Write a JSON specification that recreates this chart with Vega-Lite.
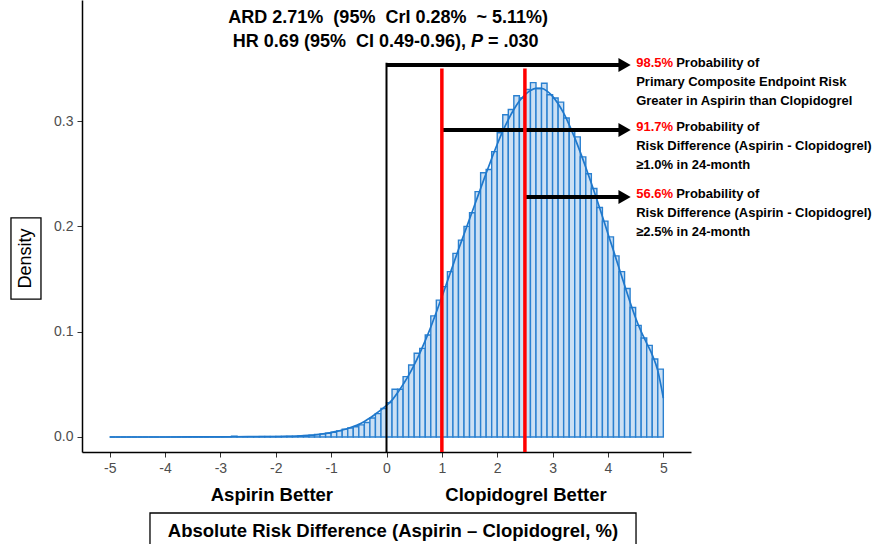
{
  "$schema": "https://vega.github.io/schema/vega-lite/v6.json",
  "width": 609,
  "height": 452,
  "autosize": {"type": "none"},
  "padding": {"left": 82, "top": 0, "right": 186, "bottom": 92},
  "background": "white",
  "config": {
    "view": {"stroke": null},
    "font": "Liberation Sans",
    "axis": {
      "domainColor": "black",
      "domainWidth": 1.5,
      "tickColor": "#333333",
      "tickSize": 5,
      "tickWidth": 1,
      "labelColor": "#4d4d4d",
      "labelFontSize": 14,
      "labelFont": "Liberation Sans",
      "labelPadding": 3,
      "grid": false
    }
  },
  "datasets": {
    "hist": [
      {"bin_start": -5.0, "bin_end": -4.9, "density": 0},
      {"bin_start": -4.9, "bin_end": -4.8, "density": 0},
      {"bin_start": -4.8, "bin_end": -4.7, "density": 0},
      {"bin_start": -4.7, "bin_end": -4.6, "density": 0},
      {"bin_start": -4.6, "bin_end": -4.5, "density": 0},
      {"bin_start": -4.5, "bin_end": -4.4, "density": 0},
      {"bin_start": -4.4, "bin_end": -4.3, "density": 0},
      {"bin_start": -4.3, "bin_end": -4.2, "density": 0},
      {"bin_start": -4.2, "bin_end": -4.1, "density": 0},
      {"bin_start": -4.1, "bin_end": -4.0, "density": 0},
      {"bin_start": -4.0, "bin_end": -3.9, "density": 0},
      {"bin_start": -3.9, "bin_end": -3.8, "density": 0},
      {"bin_start": -3.8, "bin_end": -3.7, "density": 0},
      {"bin_start": -3.7, "bin_end": -3.6, "density": 0},
      {"bin_start": -3.6, "bin_end": -3.5, "density": 0},
      {"bin_start": -3.5, "bin_end": -3.4, "density": 0},
      {"bin_start": -3.4, "bin_end": -3.3, "density": 0},
      {"bin_start": -3.3, "bin_end": -3.2, "density": 0},
      {"bin_start": -3.2, "bin_end": -3.1, "density": 0},
      {"bin_start": -3.1, "bin_end": -3.0, "density": 0},
      {"bin_start": -3.0, "bin_end": -2.9, "density": 0},
      {"bin_start": -2.9, "bin_end": -2.8, "density": 0},
      {"bin_start": -2.8, "bin_end": -2.7, "density": 0.0008},
      {"bin_start": -2.7, "bin_end": -2.6, "density": 0.0002},
      {"bin_start": -2.6, "bin_end": -2.5, "density": 0},
      {"bin_start": -2.5, "bin_end": -2.4, "density": 0.0001},
      {"bin_start": -2.4, "bin_end": -2.3, "density": 0.0001},
      {"bin_start": -2.3, "bin_end": -2.2, "density": 0.0004},
      {"bin_start": -2.2, "bin_end": -2.1, "density": 0.0004},
      {"bin_start": -2.1, "bin_end": -2.0, "density": 0.0004},
      {"bin_start": -2.0, "bin_end": -1.9, "density": 0.0005},
      {"bin_start": -1.9, "bin_end": -1.8, "density": 0.0005},
      {"bin_start": -1.8, "bin_end": -1.7, "density": 0.0006},
      {"bin_start": -1.7, "bin_end": -1.6, "density": 0.0007},
      {"bin_start": -1.6, "bin_end": -1.5, "density": 0.0010},
      {"bin_start": -1.5, "bin_end": -1.4, "density": 0.0013},
      {"bin_start": -1.4, "bin_end": -1.3, "density": 0.0017},
      {"bin_start": -1.3, "bin_end": -1.2, "density": 0.0023},
      {"bin_start": -1.2, "bin_end": -1.1, "density": 0.0030},
      {"bin_start": -1.1, "bin_end": -1.0, "density": 0.0036},
      {"bin_start": -1.0, "bin_end": -0.9, "density": 0.0045},
      {"bin_start": -0.9, "bin_end": -0.8, "density": 0.0058},
      {"bin_start": -0.8, "bin_end": -0.7, "density": 0.0075},
      {"bin_start": -0.7, "bin_end": -0.6, "density": 0.0085},
      {"bin_start": -0.6, "bin_end": -0.5, "density": 0.0098},
      {"bin_start": -0.5, "bin_end": -0.4, "density": 0.0115},
      {"bin_start": -0.4, "bin_end": -0.3, "density": 0.0138},
      {"bin_start": -0.3, "bin_end": -0.2, "density": 0.0180},
      {"bin_start": -0.2, "bin_end": -0.1, "density": 0.0222},
      {"bin_start": -0.1, "bin_end": 0.0, "density": 0.0270},
      {"bin_start": 0.0, "bin_end": 0.1, "density": 0.0326},
      {"bin_start": 0.1, "bin_end": 0.2, "density": 0.0453},
      {"bin_start": 0.2, "bin_end": 0.3, "density": 0.0453},
      {"bin_start": 0.3, "bin_end": 0.4, "density": 0.0573},
      {"bin_start": 0.4, "bin_end": 0.5, "density": 0.0684},
      {"bin_start": 0.5, "bin_end": 0.6, "density": 0.0795},
      {"bin_start": 0.6, "bin_end": 0.7, "density": 0.0842},
      {"bin_start": 0.7, "bin_end": 0.8, "density": 0.0969},
      {"bin_start": 0.8, "bin_end": 0.9, "density": 0.1150},
      {"bin_start": 0.9, "bin_end": 1.0, "density": 0.1300},
      {"bin_start": 1.0, "bin_end": 1.1, "density": 0.1428},
      {"bin_start": 1.1, "bin_end": 1.2, "density": 0.1570},
      {"bin_start": 1.2, "bin_end": 1.3, "density": 0.1744},
      {"bin_start": 1.3, "bin_end": 1.4, "density": 0.1870},
      {"bin_start": 1.4, "bin_end": 1.5, "density": 0.2000},
      {"bin_start": 1.5, "bin_end": 1.6, "density": 0.2130},
      {"bin_start": 1.6, "bin_end": 1.7, "density": 0.2330},
      {"bin_start": 1.7, "bin_end": 1.8, "density": 0.2510},
      {"bin_start": 1.8, "bin_end": 1.9, "density": 0.2540},
      {"bin_start": 1.9, "bin_end": 2.0, "density": 0.2710},
      {"bin_start": 2.0, "bin_end": 2.1, "density": 0.2890},
      {"bin_start": 2.1, "bin_end": 2.2, "density": 0.3060},
      {"bin_start": 2.2, "bin_end": 2.3, "density": 0.3110},
      {"bin_start": 2.3, "bin_end": 2.4, "density": 0.3240},
      {"bin_start": 2.4, "bin_end": 2.5, "density": 0.3220},
      {"bin_start": 2.5, "bin_end": 2.6, "density": 0.3300},
      {"bin_start": 2.6, "bin_end": 2.7, "density": 0.3365},
      {"bin_start": 2.7, "bin_end": 2.8, "density": 0.3310},
      {"bin_start": 2.8, "bin_end": 2.9, "density": 0.3360},
      {"bin_start": 2.9, "bin_end": 3.0, "density": 0.3250},
      {"bin_start": 3.0, "bin_end": 3.1, "density": 0.3220},
      {"bin_start": 3.1, "bin_end": 3.2, "density": 0.3180},
      {"bin_start": 3.2, "bin_end": 3.3, "density": 0.3030},
      {"bin_start": 3.3, "bin_end": 3.4, "density": 0.2920},
      {"bin_start": 3.4, "bin_end": 3.5, "density": 0.2850},
      {"bin_start": 3.5, "bin_end": 3.6, "density": 0.2660},
      {"bin_start": 3.6, "bin_end": 3.7, "density": 0.2500},
      {"bin_start": 3.7, "bin_end": 3.8, "density": 0.2360},
      {"bin_start": 3.8, "bin_end": 3.9, "density": 0.2180},
      {"bin_start": 3.9, "bin_end": 4.0, "density": 0.2050},
      {"bin_start": 4.0, "bin_end": 4.1, "density": 0.1900},
      {"bin_start": 4.1, "bin_end": 4.2, "density": 0.1720},
      {"bin_start": 4.2, "bin_end": 4.3, "density": 0.1570},
      {"bin_start": 4.3, "bin_end": 4.4, "density": 0.1410},
      {"bin_start": 4.4, "bin_end": 4.5, "density": 0.1230},
      {"bin_start": 4.5, "bin_end": 4.6, "density": 0.1060},
      {"bin_start": 4.6, "bin_end": 4.7, "density": 0.0940},
      {"bin_start": 4.7, "bin_end": 4.8, "density": 0.0870},
      {"bin_start": 4.8, "bin_end": 4.9, "density": 0.0740},
      {"bin_start": 4.9, "bin_end": 5.0, "density": 0.0645}
    ],
    "curve": [
      {"x": -5.0, "density": 0},
      {"x": -4.0, "density": 0},
      {"x": -3.5, "density": 0.0001},
      {"x": -3.0, "density": 0.0002},
      {"x": -2.5, "density": 0.0003},
      {"x": -2.0, "density": 0.0004},
      {"x": -1.8, "density": 0.0006},
      {"x": -1.6, "density": 0.0009},
      {"x": -1.4, "density": 0.0015},
      {"x": -1.2, "density": 0.0026},
      {"x": -1.0, "density": 0.0042},
      {"x": -0.9, "density": 0.0053},
      {"x": -0.8, "density": 0.0066},
      {"x": -0.7, "density": 0.0081},
      {"x": -0.6, "density": 0.0099},
      {"x": -0.5, "density": 0.0120},
      {"x": -0.4, "density": 0.0148},
      {"x": -0.3, "density": 0.0180},
      {"x": -0.2, "density": 0.0218},
      {"x": -0.1, "density": 0.0258},
      {"x": 0.0, "density": 0.0300},
      {"x": 0.1, "density": 0.0350},
      {"x": 0.2, "density": 0.0420},
      {"x": 0.3, "density": 0.0500},
      {"x": 0.4, "density": 0.0585},
      {"x": 0.5, "density": 0.0685},
      {"x": 0.6, "density": 0.0795},
      {"x": 0.7, "density": 0.0915},
      {"x": 0.8, "density": 0.1045},
      {"x": 0.9, "density": 0.1185},
      {"x": 1.0, "density": 0.1330},
      {"x": 1.1, "density": 0.1480},
      {"x": 1.2, "density": 0.1630},
      {"x": 1.3, "density": 0.1780},
      {"x": 1.4, "density": 0.1925},
      {"x": 1.5, "density": 0.2070},
      {"x": 1.6, "density": 0.2215},
      {"x": 1.7, "density": 0.2360},
      {"x": 1.8, "density": 0.2505},
      {"x": 1.9, "density": 0.2645},
      {"x": 2.0, "density": 0.2780},
      {"x": 2.1, "density": 0.2905},
      {"x": 2.2, "density": 0.3015},
      {"x": 2.3, "density": 0.3110},
      {"x": 2.4, "density": 0.3190},
      {"x": 2.5, "density": 0.3250},
      {"x": 2.6, "density": 0.3290},
      {"x": 2.7, "density": 0.3310},
      {"x": 2.8, "density": 0.3310},
      {"x": 2.9, "density": 0.3285},
      {"x": 3.0, "density": 0.3235},
      {"x": 3.1, "density": 0.3165},
      {"x": 3.2, "density": 0.3075},
      {"x": 3.3, "density": 0.2965},
      {"x": 3.4, "density": 0.2840},
      {"x": 3.5, "density": 0.2705},
      {"x": 3.6, "density": 0.2560},
      {"x": 3.7, "density": 0.2410},
      {"x": 3.8, "density": 0.2255},
      {"x": 3.9, "density": 0.2095},
      {"x": 4.0, "density": 0.1930},
      {"x": 4.1, "density": 0.1770},
      {"x": 4.2, "density": 0.1605},
      {"x": 4.3, "density": 0.1440},
      {"x": 4.4, "density": 0.1280},
      {"x": 4.5, "density": 0.1130},
      {"x": 4.6, "density": 0.1000},
      {"x": 4.7, "density": 0.0890},
      {"x": 4.8, "density": 0.0780},
      {"x": 4.9, "density": 0.0630},
      {"x": 5.0, "density": 0.0370}
    ]
  },
  "layer": [
    {
      "data": {"name": "hist"},
      "mark": {"type": "rect", "fill": "#cce0f4", "stroke": "#2a80d0", "strokeWidth": 1.4},
      "encoding": {
        "x": {"field": "bin_start", "type": "quantitative",
              "scale": {"domain": [-5.5, 5.5], "nice": false, "zero": false},
              "axis": {"title": null, "values": [-5, -4, -3, -2, -1, 0, 1, 2, 3, 4, 5], "labelExpr": "'' + datum.value", "labelFontSize": 14, "labelPadding": 4}},
        "x2": {"field": "bin_end"},
        "y": {"field": "density", "type": "quantitative",
              "scale": {"domain": [-0.01425, 0.415], "nice": false, "zero": false},
              "axis": {"title": null, "values": [0, 0.1, 0.2, 0.3], "format": ".1f", "labelPadding": 4, "labelFontSize": 14}},
        "y2": {"datum": 0}
      }
    },
    {
      "data": {"name": "curve"},
      "mark": {"type": "line", "stroke": "#1f78cc", "strokeWidth": 1.7, "interpolate": "monotone"},
      "encoding": {
        "x": {"field": "x", "type": "quantitative"},
        "y": {"field": "density", "type": "quantitative"}
      }
    },
    {
      "data": {"values": [{}]},
      "mark": {"type": "rule", "color": "black", "strokeWidth": 2},
      "encoding": {"x": {"datum": 0, "type": "quantitative"}, "y": {"datum": -0.01425, "type": "quantitative"}, "y2": {"datum": 0.3555}}
    },
    {
      "data": {"values": [{}]},
      "mark": {"type": "rule", "color": "black", "strokeWidth": 4},
      "encoding": {"x": {"datum": 0, "type": "quantitative"}, "x2": {"datum": 4.2}, "y": {"datum": 0.3533, "type": "quantitative"}}
    },
    {
      "data": {"values": [{}]},
      "mark": {"type": "rule", "color": "black", "strokeWidth": 4},
      "encoding": {"x": {"datum": 1, "type": "quantitative"}, "x2": {"datum": 4.2}, "y": {"datum": 0.2915, "type": "quantitative"}}
    },
    {
      "data": {"values": [{}]},
      "mark": {"type": "rule", "color": "black", "strokeWidth": 4},
      "encoding": {"x": {"datum": 2.5, "type": "quantitative"}, "x2": {"datum": 4.2}, "y": {"datum": 0.2279, "type": "quantitative"}}
    },
    {
      "data": {"values": [{}]},
      "mark": {"type": "rule", "color": "#ff0000", "strokeWidth": 3.5},
      "encoding": {"x": {"datum": 1, "type": "quantitative"}, "y": {"datum": -0.01425, "type": "quantitative"}, "y2": {"datum": 0.350}}
    },
    {
      "data": {"values": [{}]},
      "mark": {"type": "rule", "color": "#ff0000", "strokeWidth": 3.5},
      "encoding": {"x": {"datum": 2.5, "type": "quantitative"}, "y": {"datum": -0.01425, "type": "quantitative"}, "y2": {"datum": 0.350}}
    },
    {
      "data": {"values": [{}]},
      "mark": {"type": "point", "shape": "triangle-right", "size": 200, "filled": true, "color": "black", "opacity": 1},
      "encoding": {"x": {"datum": 4.3, "type": "quantitative"}, "y": {"datum": 0.3533, "type": "quantitative"}}
    },
    {
      "data": {"values": [{}]},
      "mark": {"type": "point", "shape": "triangle-right", "size": 200, "filled": true, "color": "black", "opacity": 1},
      "encoding": {"x": {"datum": 4.3, "type": "quantitative"}, "y": {"datum": 0.2915, "type": "quantitative"}}
    },
    {
      "data": {"values": [{}]},
      "mark": {"type": "point", "shape": "triangle-right", "size": 200, "filled": true, "color": "black", "opacity": 1},
      "encoding": {"x": {"datum": 4.3, "type": "quantitative"}, "y": {"datum": 0.2279, "type": "quantitative"}}
    },
    {
      "data": {"values": [{}]},
      "mark": {"type": "text", "text": "ARD 2.71%\u00a0 (95%\u00a0 CrI 0.28%\u00a0 ~ 5.11%)", "font": "Liberation Sans", "fontWeight": "bold", "fontSize": 18, "align": "center", "baseline": "middle", "color": "black"},
      "encoding": {"x": {"datum": 0.03, "type": "quantitative"}, "y": {"datum": 0.398, "type": "quantitative"}}
    },
    {
      "data": {"values": [{}]},
      "mark": {"type": "text", "text": "HR 0.69 (95%\u00a0 CI 0.49-0.96),", "font": "Liberation Sans", "fontWeight": "bold", "fontSize": 18, "align": "right", "baseline": "middle", "dx": -5, "color": "black"},
      "encoding": {"x": {"datum": 1.526, "type": "quantitative"}, "y": {"datum": 0.3751, "type": "quantitative"}}
    },
    {
      "data": {"values": [{}]},
      "mark": {"type": "text", "text": "P", "font": "Liberation Sans", "fontWeight": "bold", "fontStyle": "italic", "fontSize": 18, "align": "left", "baseline": "middle", "color": "black"},
      "encoding": {"x": {"datum": 1.526, "type": "quantitative"}, "y": {"datum": 0.3751, "type": "quantitative"}}
    },
    {
      "data": {"values": [{}]},
      "mark": {"type": "text", "text": "= .030", "font": "Liberation Sans", "fontWeight": "bold", "fontSize": 18, "align": "left", "baseline": "middle", "dx": 17, "color": "black"},
      "encoding": {"x": {"datum": 1.526, "type": "quantitative"}, "y": {"datum": 0.3751, "type": "quantitative"}}
    },
    {
      "data": {"values": [{}]},
      "mark": {"type": "text", "text": "98.5%", "font": "Liberation Sans", "fontWeight": "bold", "fontSize": 13, "align": "left", "baseline": "middle", "color": "#ff0000"},
      "encoding": {"x": {"datum": 4.51, "type": "quantitative"}, "y": {"datum": 0.3552, "type": "quantitative"}}
    },
    {
      "data": {"values": [{}]},
      "mark": {"type": "text", "text": "Probability of", "font": "Liberation Sans", "fontWeight": "bold", "fontSize": 13, "align": "left", "baseline": "middle", "dx": 40, "color": "black"},
      "encoding": {"x": {"datum": 4.51, "type": "quantitative"}, "y": {"datum": 0.3552, "type": "quantitative"}}
    },
    {
      "data": {"values": [{}]},
      "mark": {"type": "text", "text": "Primary Composite Endpoint Risk", "font": "Liberation Sans", "fontWeight": "bold", "fontSize": 13, "align": "left", "baseline": "middle", "color": "black"},
      "encoding": {"x": {"datum": 4.51, "type": "quantitative"}, "y": {"datum": 0.3372, "type": "quantitative"}}
    },
    {
      "data": {"values": [{}]},
      "mark": {"type": "text", "text": "Greater in Aspirin than Clopidogrel", "font": "Liberation Sans", "fontWeight": "bold", "fontSize": 13, "align": "left", "baseline": "middle", "color": "black"},
      "encoding": {"x": {"datum": 4.51, "type": "quantitative"}, "y": {"datum": 0.3191, "type": "quantitative"}}
    },
    {
      "data": {"values": [{}]},
      "mark": {"type": "text", "text": "91.7%", "font": "Liberation Sans", "fontWeight": "bold", "fontSize": 13, "align": "left", "baseline": "middle", "color": "#ff0000"},
      "encoding": {"x": {"datum": 4.51, "type": "quantitative"}, "y": {"datum": 0.2944, "type": "quantitative"}}
    },
    {
      "data": {"values": [{}]},
      "mark": {"type": "text", "text": "Probability of", "font": "Liberation Sans", "fontWeight": "bold", "fontSize": 13, "align": "left", "baseline": "middle", "dx": 40, "color": "black"},
      "encoding": {"x": {"datum": 4.51, "type": "quantitative"}, "y": {"datum": 0.2944, "type": "quantitative"}}
    },
    {
      "data": {"values": [{}]},
      "mark": {"type": "text", "text": "Risk Difference (Aspirin - Clopidogrel)", "font": "Liberation Sans", "fontWeight": "bold", "fontSize": 13, "align": "left", "baseline": "middle", "color": "black"},
      "encoding": {"x": {"datum": 4.51, "type": "quantitative"}, "y": {"datum": 0.2764, "type": "quantitative"}}
    },
    {
      "data": {"values": [{}]},
      "mark": {"type": "text", "text": "≥1.0% in 24-month", "font": "Liberation Sans", "fontWeight": "bold", "fontSize": 13, "align": "left", "baseline": "middle", "color": "black"},
      "encoding": {"x": {"datum": 4.51, "type": "quantitative"}, "y": {"datum": 0.2583, "type": "quantitative"}}
    },
    {
      "data": {"values": [{}]},
      "mark": {"type": "text", "text": "56.6%", "font": "Liberation Sans", "fontWeight": "bold", "fontSize": 13, "align": "left", "baseline": "middle", "color": "#ff0000"},
      "encoding": {"x": {"datum": 4.51, "type": "quantitative"}, "y": {"datum": 0.2308, "type": "quantitative"}}
    },
    {
      "data": {"values": [{}]},
      "mark": {"type": "text", "text": "Probability of", "font": "Liberation Sans", "fontWeight": "bold", "fontSize": 13, "align": "left", "baseline": "middle", "dx": 40, "color": "black"},
      "encoding": {"x": {"datum": 4.51, "type": "quantitative"}, "y": {"datum": 0.2308, "type": "quantitative"}}
    },
    {
      "data": {"values": [{}]},
      "mark": {"type": "text", "text": "Risk Difference (Aspirin - Clopidogrel)", "font": "Liberation Sans", "fontWeight": "bold", "fontSize": 13, "align": "left", "baseline": "middle", "color": "black"},
      "encoding": {"x": {"datum": 4.51, "type": "quantitative"}, "y": {"datum": 0.2127, "type": "quantitative"}}
    },
    {
      "data": {"values": [{}]},
      "mark": {"type": "text", "text": "≥2.5% in 24-month", "font": "Liberation Sans", "fontWeight": "bold", "fontSize": 13, "align": "left", "baseline": "middle", "color": "black"},
      "encoding": {"x": {"datum": 4.51, "type": "quantitative"}, "y": {"datum": 0.1947, "type": "quantitative"}}
    },
    {
      "data": {"values": [{}]},
      "mark": {"type": "text", "text": "Aspirin Better", "font": "Liberation Sans", "fontWeight": "bold", "fontSize": 18.5, "align": "center", "baseline": "middle", "color": "black"},
      "encoding": {"x": {"datum": -2.07, "type": "quantitative"}, "y": {"datum": -0.0551, "type": "quantitative"}}
    },
    {
      "data": {"values": [{}]},
      "mark": {"type": "text", "text": "Clopidogrel Better", "font": "Liberation Sans", "fontWeight": "bold", "fontSize": 18.5, "align": "center", "baseline": "middle", "color": "black"},
      "encoding": {"x": {"datum": 2.52, "type": "quantitative"}, "y": {"datum": -0.0551, "type": "quantitative"}}
    },
    {
      "data": {"values": [{}]},
      "mark": {"type": "rect", "filled": false, "stroke": "black", "strokeWidth": 1.3},
      "encoding": {"x": {"datum": -4.272, "type": "quantitative"}, "x2": {"datum": 4.507}, "y": {"datum": -0.0722, "type": "quantitative"}, "y2": {"datum": -0.1073}}
    },
    {
      "data": {"values": [{}]},
      "mark": {"type": "text", "text": "Absolute Risk Difference (Aspirin – Clopidogrel, %)", "font": "Liberation Sans", "fontWeight": "bold", "fontSize": 18.5, "align": "center", "baseline": "middle", "color": "black"},
      "encoding": {"x": {"datum": 0.117, "type": "quantitative"}, "y": {"datum": -0.0893, "type": "quantitative"}}
    },
    {
      "data": {"values": [{}]},
      "mark": {"type": "rect", "filled": false, "stroke": "black", "strokeWidth": 1.3},
      "encoding": {"x": {"datum": -6.783, "type": "quantitative"}, "x2": {"datum": -6.241}, "y": {"datum": 0.208, "type": "quantitative"}, "y2": {"datum": 0.131}}
    },
    {
      "data": {"values": [{}]},
      "mark": {"type": "text", "text": "Density", "font": "Liberation Sans", "fontSize": 18, "angle": 270, "align": "center", "baseline": "middle", "color": "black"},
      "encoding": {"x": {"datum": -6.512, "type": "quantitative"}, "y": {"datum": 0.1695, "type": "quantitative"}}
    }
  ]
}
